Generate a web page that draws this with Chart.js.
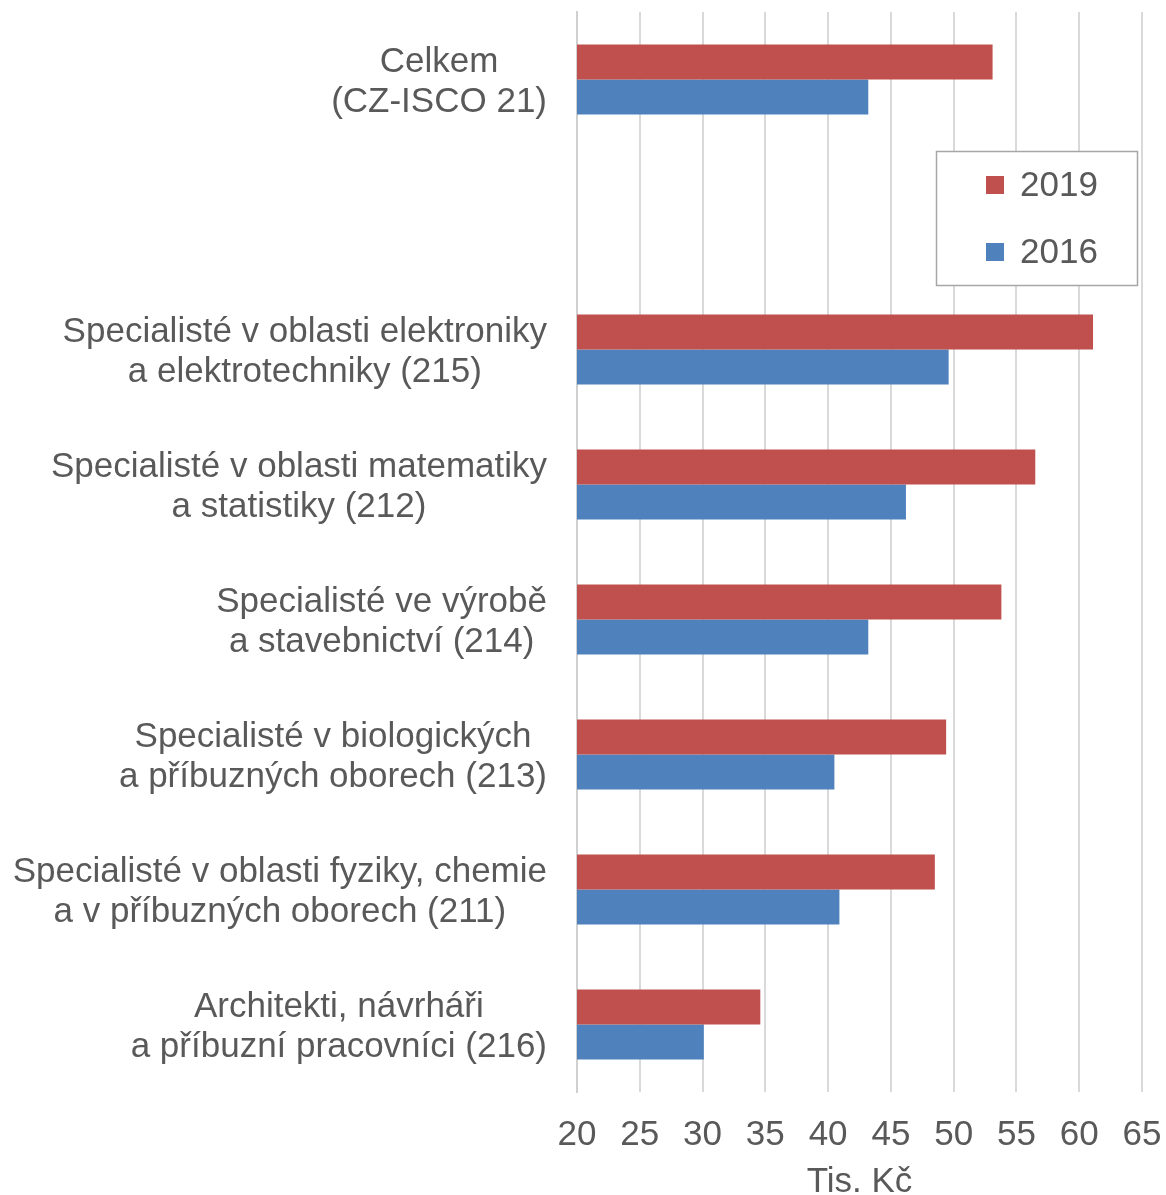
<!DOCTYPE html>
<html>
<head>
<meta charset="utf-8">
<script src="https://cdn.jsdelivr.net/npm/chart.js@4/dist/chart.umd.min.js"></script>
<style>
  html, body { margin: 0; padding: 0; background: #ffffff; }
  #wrap { width: 1166px; height: 1195px; position: relative; }
</style>
</head>
<body>
<div id="wrap"><canvas id="c"></canvas></div>
<script>
const categories = [
  ["Celkem", "(CZ-ISCO 21)"],
  [""],
  ["Specialisté v oblasti elektroniky", "a elektrotechniky (215)"],
  ["Specialisté v oblasti matematiky", "a statistiky (212)"],
  ["Specialisté ve výrobě", "a stavebnictví (214)"],
  ["Specialisté v biologických", "a příbuzných oborech (213)"],
  ["Specialisté v oblasti fyziky, chemie", "a v příbuzných oborech (211)"],
  ["Architekti, návrháři", "a příbuzní pracovníci (216)"]
];
const seriesNames = ["2019", "2016"];
const values2019 = [53.1, null, 61.1, 56.5, 53.8, 49.4, 48.5, 34.6];
const values2016 = [43.2, null, 49.6, 46.2, 43.2, 40.5, 40.9, 30.1];
const xTicks = [20, 25, 30, 35, 40, 45, 50, 55, 60, 65];
const axisTitle = "Tis. Kč";

const FONT = "'Liberation Sans', Arial, sans-serif";
const TEXT = "#595959";
const FS = 35;

const catLabelPlugin = {
  id: 'catLabels',
  afterDraw(chart) {
    const ctx = chart.ctx;
    const ys = chart.scales.y;
    const rightX = ys.right - 30;
    const lh = 40;
    ctx.save();
    ctx.font = FS + "px " + FONT;
    ctx.fillStyle = TEXT;
    ctx.textBaseline = 'middle';
    ctx.textAlign = 'center';
    chart.data.labels.forEach((lab, i) => {
      const lines = Array.isArray(lab) ? lab : [lab];
      const w = Math.max(...lines.map(l => ctx.measureText(l).width));
      const cx = rightX - w / 2;
      const cy = ys.getPixelForTick(i) + 3;
      const y0 = cy - (lines.length - 1) * lh / 2;
      lines.forEach((l, k) => ctx.fillText(l, cx, y0 + k * lh));
    });
    ctx.restore();
  }
};

const legendPlugin = {
  id: 'boxLegend',
  afterDraw(chart) {
    const ctx = chart.ctx;
    const bx = 936, by = 151, bw = 201, bh = 134;
    ctx.save();
    ctx.fillStyle = '#ffffff';
    ctx.fillRect(bx, by, bw, bh);
    ctx.strokeStyle = '#A6A6A6';
    ctx.lineWidth = 1.5;
    ctx.strokeRect(bx + 0.5, by + 0.5, bw, bh);
    ctx.font = FS + "px " + FONT;
    ctx.textBaseline = 'middle';
    ctx.textAlign = 'left';
    chart.data.datasets.forEach((ds, i) => {
      const cy = 185 + i * 67;
      ctx.fillStyle = ds.backgroundColor;
      ctx.fillRect(986, cy - 9, 18, 18);
      ctx.fillStyle = TEXT;
      ctx.fillText(ds.label, 1020, cy + 1);
    });
    ctx.restore();
  }
};

new Chart(document.getElementById('c'), {
  type: 'bar',
  data: {
    labels: categories,
    datasets: [
      { label: seriesNames[0], data: values2019, backgroundColor: '#C0504D' },
      { label: seriesNames[1], data: values2016, backgroundColor: '#4F81BD' }
    ]
  },
  options: {
    indexAxis: 'y',
    responsive: true,
    maintainAspectRatio: false,
    animation: false,
    categoryPercentage: 0.52,
    barPercentage: 1.0,
    layout: { padding: { top: 12, right: 24, bottom: 0, left: 0 } },
    plugins: {
      legend: { display: false },
      tooltip: { enabled: false }
    },
    scales: {
      x: {
        type: 'linear',
        min: 20,
        max: 65,
        afterBuildTicks: (s) => { s.ticks = xTicks.map(v => ({ value: v })); },
        grid: { color: '#D9D9D9', lineWidth: 2, drawTicks: false },
        border: { display: false },
        ticks: {
          color: TEXT,
          font: { family: FONT, size: FS },
          padding: 22,
          maxRotation: 0,
          autoSkip: false
        },
        title: {
          display: true,
          text: axisTitle,
          color: TEXT,
          font: { family: FONT, size: FS, lineHeight: '26px' },
          padding: { top: 0, bottom: 0 }
        },
        afterFit: (s) => { s.height = 103; s.paddingRight = 0; s.paddingLeft = 0; }
      },
      y: {
        grid: { display: false, drawTicks: false },
        border: { display: true, color: '#D0D0D0', width: 2 },
        ticks: { display: false },
        afterFit: (s) => { s.width = 577; }
      }
    }
  },
  plugins: [catLabelPlugin, legendPlugin]
});
</script>
</body>
</html>
